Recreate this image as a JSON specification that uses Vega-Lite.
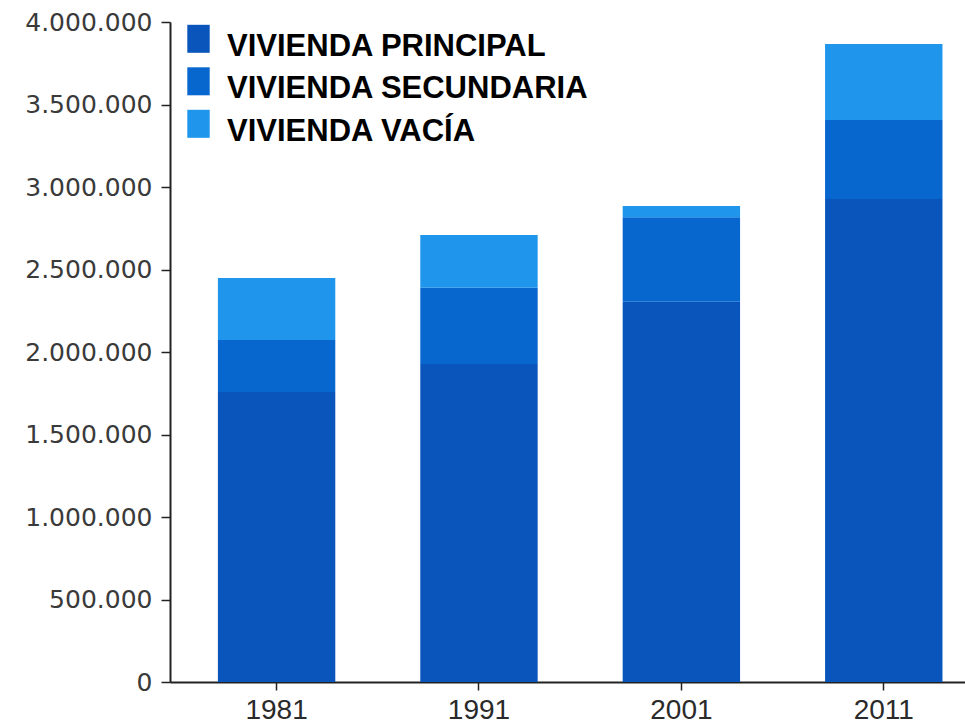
{
  "$schema": "https://vega.github.io/schema/vega-lite/v6.json",
  "autosize": {"type": "none"},
  "padding": {"left": 170, "top": 22, "right": 0, "bottom": 45},
  "width": 795,
  "height": 660,
  "background": "white",
  "config": {
    "view": {"stroke": null},
    "locale": {"number": {"decimal": ",", "thousands": ".", "grouping": [3], "currency": ["", " €"]}}
  },
  "data": {
    "values": [
      {"anio": "1981", "tipo": "VIVIENDA PRINCIPAL", "viviendas": 1758000},
      {"anio": "1981", "tipo": "VIVIENDA SECUNDARIA", "viviendas": 315000},
      {"anio": "1981", "tipo": "VIVIENDA VACÍA", "viviendas": 375000},
      {"anio": "1991", "tipo": "VIVIENDA PRINCIPAL", "viviendas": 1927000},
      {"anio": "1991", "tipo": "VIVIENDA SECUNDARIA", "viviendas": 463000},
      {"anio": "1991", "tipo": "VIVIENDA VACÍA", "viviendas": 319000},
      {"anio": "2001", "tipo": "VIVIENDA PRINCIPAL", "viviendas": 2305000},
      {"anio": "2001", "tipo": "VIVIENDA SECUNDARIA", "viviendas": 511000},
      {"anio": "2001", "tipo": "VIVIENDA VACÍA", "viviendas": 69000},
      {"anio": "2011", "tipo": "VIVIENDA PRINCIPAL", "viviendas": 2927000},
      {"anio": "2011", "tipo": "VIVIENDA SECUNDARIA", "viviendas": 479000},
      {"anio": "2011", "tipo": "VIVIENDA VACÍA", "viviendas": 461000}
    ]
  },
  "mark": {"type": "bar"},
  "encoding": {
    "x": {
      "field": "anio",
      "type": "ordinal",
      "scale": {"paddingInner": 0.42, "paddingOuter": 0.174, "align": 0.68},
      "axis": {
        "title": null,
        "labelAngle": 0,
        "labelFont": "Liberation Sans",
        "labelFontSize": 28,
        "labelColor": "#2a2a2a",
        "labelPadding": 6,
        "tickSize": 8,
        "tickColor": "#222",
        "tickWidth": 1.5,
        "domainColor": "#222",
        "domainWidth": 2
      }
    },
    "y": {
      "field": "viviendas",
      "type": "quantitative",
      "aggregate": "sum",
      "stack": "zero",
      "scale": {"domain": [0, 4000000], "nice": false},
      "axis": {
        "title": null,
        "values": [0, 500000, 1000000, 1500000, 2000000, 2500000, 3000000, 3500000, 4000000],
        "format": ",d",
        "grid": false,
        "labelFont": "DejaVu Sans",
        "labelFontSize": 25,
        "labelColor": "#3a3a3a",
        "labelPadding": 9,
        "tickSize": 9,
        "tickColor": "#222",
        "tickWidth": 1.5,
        "domainColor": "#222",
        "domainWidth": 2
      }
    },
    "color": {
      "field": "tipo",
      "type": "nominal",
      "scale": {
        "domain": ["VIVIENDA PRINCIPAL", "VIVIENDA SECUNDARIA", "VIVIENDA VACÍA"],
        "range": ["#0a55bb", "#0767cf", "#1f95ec"]
      },
      "legend": {
        "title": null,
        "orient": "none",
        "legendX": 13,
        "legendY": 9,
        "direction": "vertical",
        "padding": 0,
        "symbolType": "M-0.8,-1.55H0.8V0.45H-0.8Z",
        "symbolSize": 784,
        "symbolStrokeWidth": 0,
        "symbolOpacity": 1,
        "labelFont": "Liberation Sans",
        "labelFontWeight": "bold",
        "labelFontSize": 31,
        "labelColor": "#000",
        "labelOffset": 13,
        "labelLimit": 600,
        "rowPadding": 4.5
      }
    },
    "order": {"field": "tipo", "sort": "ascending"}
  }
}
